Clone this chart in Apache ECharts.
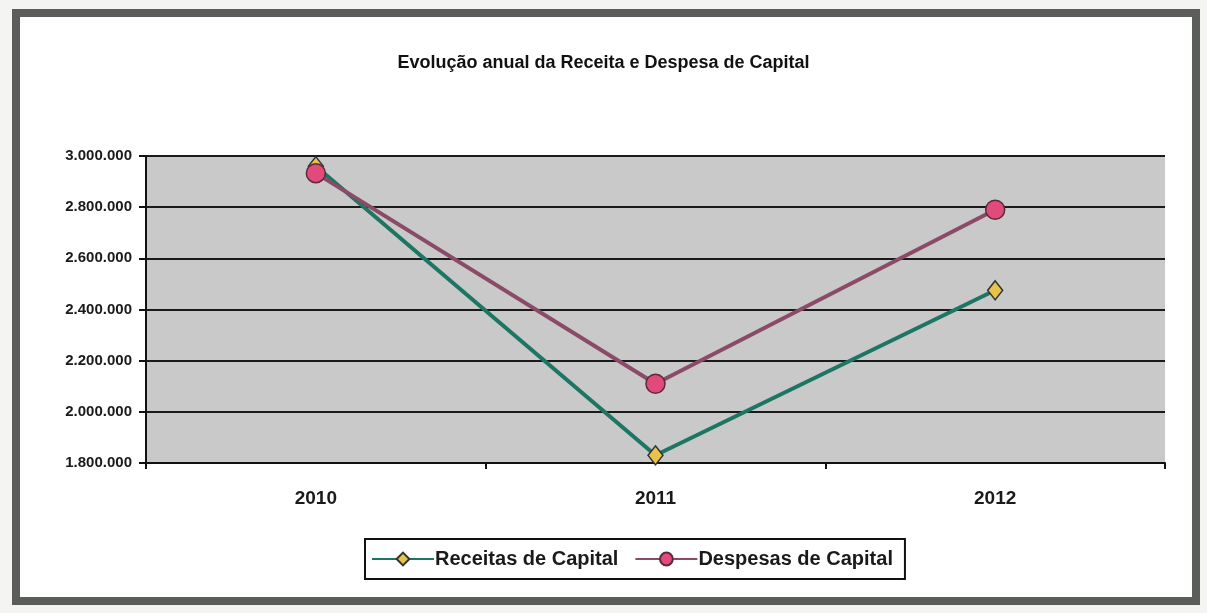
<!DOCTYPE html>
<html>
<head>
<meta charset="utf-8">
<script src="https://cdn.jsdelivr.net/npm/echarts@6/dist/echarts.min.js"></script>
<style>
  html, body { margin: 0; padding: 0; background: #f4f4f2; }
  .frame {
    position: absolute; left: 12px; top: 9px; width: 1172px; height: 580px;
    border: 8px solid #5a5d5a; background: #ffffff;
  }
  #chart { position: absolute; left: 0; top: 0; width: 1207px; height: 613px; }
</style>
</head>
<body>
<div class="frame"></div>
<div id="chart"></div>
<script>
// anos
const categories = ['2010', '2011', '2012']
// valores (euros)
const receitas = [2960000, 1830000, 2475000]
const despesas = [2933000, 2110000, 2790000]

const yMin = 1800000
const yMax = 3000000
const yStep = 200000

function fmt(v) {
  return String(v).replace(/\B(?=(\d{3})+(?!\d))/g, '.')
}

const chart = echarts.init(document.getElementById('chart'))

chart.setOption({
  backgroundColor: 'transparent',
  textStyle: { fontFamily: 'Liberation Sans, Arial, sans-serif' },
  title: {
    text: 'Evolução anual da Receita e Despesa de Capital',
    left: 'center',
    top: 49,
    textStyle: { fontSize: 18, fontWeight: 'bold', color: '#111' }
  },
  grid: { left: 146, right: 42, top: 156, bottom: 150 },
  legend: {
    bottom: 34,
    left: 365,
    itemWidth: 62,
    itemHeight: 16,
    itemGap: 16,
    padding: [10, 12, 10, 6],
    borderColor: '#111',
    borderWidth: 2,
    backgroundColor: '#fff',
    textStyle: { fontSize: 20, fontWeight: 'bold', color: '#1a1a1a', padding: [0, 0, 0, -4] },
    data: ['Receitas de Capital', 'Despesas de Capital']
  },
  xAxis: {
    type: 'category',
    data: categories,
    boundaryGap: true,
    axisLine: { lineStyle: { color: '#111', width: 2 } },
    axisTick: { show: true, length: 6, lineStyle: { color: '#111', width: 2 } },
    axisLabel: { color: '#1a1a1a', fontSize: 19, fontWeight: 'bold', margin: 26 }
  },
  yAxis: {
    type: 'value',
    min: yMin,
    max: yMax,
    interval: yStep,
    axisLine: { show: true, lineStyle: { color: '#111', width: 2 } },
    axisTick: { show: true, length: 7, lineStyle: { color: '#111', width: 2 } },
    axisLabel: { color: '#1a1a1a', fontSize: 15, fontWeight: 'bold', margin: 14, formatter: fmt },
    splitLine: { show: true, lineStyle: { color: '#1a1a1a', width: 2 } },
    splitArea: { show: true, areaStyle: { color: ['#c9c9c9', '#c9c9c9'] } }
  },
  series: [
    {
      name: 'Receitas de Capital',
      type: 'line',
      data: receitas,
      z: 2,
      symbol: 'diamond',
      symbolSize: [15, 19],
      lineStyle: { color: '#1d7563', width: 4 },
      itemStyle: { color: '#e8c34a', borderColor: '#333', borderWidth: 1.5 }
    },
    {
      name: 'Despesas de Capital',
      type: 'line',
      data: despesas,
      z: 3,
      symbol: 'circle',
      symbolSize: 19,
      lineStyle: { color: '#8a4a68', width: 4 },
      itemStyle: { color: '#e24a7c', borderColor: '#5a2a3a', borderWidth: 1.5 }
    }
  ]
})
</script>
</body>
</html>
